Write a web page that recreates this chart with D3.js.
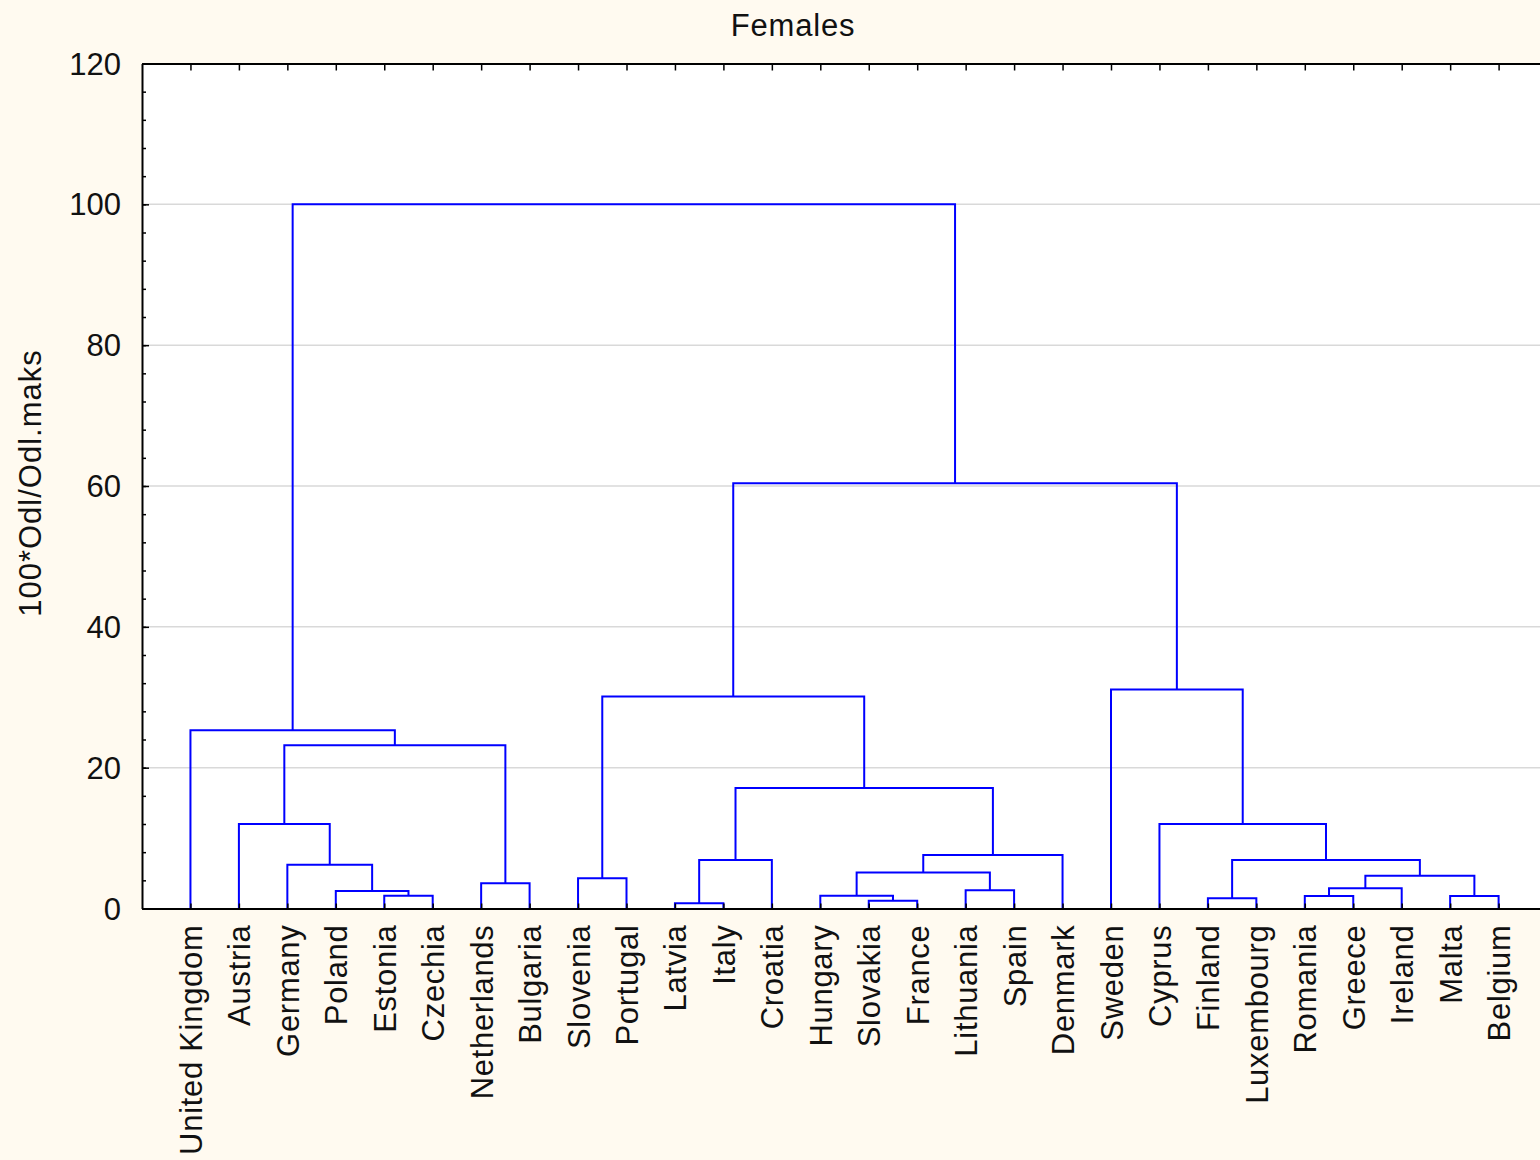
<!doctype html>
<html>
  <head>
    <script src="https://d3js.org/d3.v7.min.js"></script>
    <style>
      body { margin: 0; background: #fffaf0; }
      text { font-family: "Liberation Sans", Arial, sans-serif; fill: #111; }
    </style>
  </head>
  <body>
    <div id="chart"></div>
    <script>
      // leaf order, left to right
      var countries = ["United Kingdom", "Austria", "Germany", "Poland", "Estonia", "Czechia",
        "Netherlands", "Bulgaria", "Slovenia", "Portugal", "Latvia", "Italy", "Croatia",
        "Hungary", "Slovakia", "France", "Lithuania", "Spain", "Denmark", "Sweden", "Cyprus",
        "Finland", "Luxembourg", "Romania", "Greece", "Ireland", "Malta", "Belgium"];

      // joins: [node a, node b, linkage distance]
      // ids 0-27 are the countries, id 28 + k is the k-th join in this list
      var merges = [
        [10, 11, 0.74],  // 28 Latvia, Italy
        [14, 15, 1.1],   // 29 Slovakia, France
        [21, 22, 1.45],  // 30 Finland, Luxembourg
        [4, 5, 1.8],     // 31 Estonia, Czechia
        [13, 29, 1.8],   // 32 Hungary
        [23, 24, 1.77],  // 33 Romania, Greece
        [26, 27, 1.77],  // 34 Malta, Belgium
        [3, 31, 2.5],    // 35 Poland
        [16, 17, 2.6],   // 36 Lithuania, Spain
        [33, 25, 2.87],  // 37 Ireland
        [6, 7, 3.6],     // 38 Netherlands, Bulgaria
        [8, 9, 4.3],     // 39 Slovenia, Portugal
        [37, 34, 4.66],  // 40
        [32, 36, 5.1],   // 41
        [2, 35, 6.2],    // 42 Germany
        [28, 12, 6.9],   // 43 Croatia
        [30, 40, 6.9],   // 44
        [41, 18, 7.6],   // 45 Denmark
        [1, 42, 12.0],   // 46 Austria
        [20, 44, 12.0],  // 47 Cyprus
        [43, 45, 17.1],  // 48
        [46, 38, 23.2],  // 49
        [0, 49, 25.3],   // 50 United Kingdom
        [39, 48, 30.1],  // 51
        [19, 47, 31.1],  // 52 Sweden
        [51, 52, 60.4],  // 53
        [50, 53, 100]    // 54 root
      ];

      var yTicks = [0, 20, 40, 60, 80, 100, 120];
      var yMinor = d3.range(0, 121, 4);

      var width = 1540;
      var height = 1160;
      var plotLeft = 142, plotTop = 63.5, plotBottom = 908.5;

      var svg = d3.select("#chart")
        .append("svg")
        .attr("width", width)
        .attr("height", height);

      // leaves sit at 1..28, axis runs 0..29 (right end is cut off by the window)
      var x = d3.scaleLinear().domain([0, countries.length + 1]).range([plotLeft, plotLeft + 48.45 * 29]);
      var y = d3.scaleLinear().domain([0, 120]).range([plotBottom, plotTop]);

      // white plot area
      svg.append("rect")
        .attr("x", x(0)).attr("y", y(120))
        .attr("width", x(29) - x(0)).attr("height", y(0) - y(120))
        .attr("fill", "white");

      // grid lines
      svg.selectAll(".grid")
        .data(yTicks.filter(function(d) { return d > 0 && d < 120; }))
        .enter().append("line")
        .attr("x1", x(0)).attr("x2", x(29))
        .attr("y1", y).attr("y2", y)
        .attr("stroke", "#d9d9d9")
        .attr("stroke-width", 1.5);

      // node positions: leaves first, then every join at the mean of its two children
      var nodeX = countries.map(function(d, i) { return x(i + 1); });
      var nodeH = countries.map(function() { return 0; });
      merges.forEach(function(m) {
        nodeX.push((nodeX[m[0]] + nodeX[m[1]]) / 2);
        nodeH.push(m[2]);
      });

      svg.selectAll(".link")
        .data(merges)
        .enter().append("path")
        .attr("d", function(m) {
          var a = m[0], b = m[1];
          return "M" + nodeX[a] + "," + y(nodeH[a]) +
                 "V" + y(m[2]) +
                 "H" + nodeX[b] +
                 "V" + y(nodeH[b]);
        })
        .attr("fill", "none")
        .attr("stroke", "#0000ff")
        .attr("stroke-width", 2);

      // left axis with labels, major ticks pointing inwards
      var yAxis = svg.append("g")
        .attr("transform", "translate(" + plotLeft + ",0)")
        .call(d3.axisLeft(y).tickValues(yTicks).tickSize(-7).tickSizeOuter(0).tickPadding(21));
      yAxis.selectAll("text").style("font-size", "31px").attr("dy", "0.34em");

      // minor ticks
      svg.append("g")
        .attr("transform", "translate(" + plotLeft + ",0)")
        .call(d3.axisLeft(y).tickValues(yMinor).tickSize(-4).tickFormat(""))
        .select(".domain").remove();

      // top axis: ticks only
      svg.append("g")
        .attr("transform", "translate(0," + plotTop + ")")
        .call(d3.axisTop(x).tickValues(d3.range(1, 29)).tickSize(-7).tickSizeOuter(0).tickFormat(""));

      // bottom axis with rotated country names
      var xAxis = svg.append("g")
        .attr("transform", "translate(0," + plotBottom + ")")
        .call(d3.axisBottom(x).tickValues(d3.range(1, 29)).tickSize(-5).tickSizeOuter(0)
          .tickFormat(function(d) { return countries[d - 1]; }));
      xAxis.selectAll("text")
        .style("font-size", "31px")
        .style("letter-spacing", "0.7px")
        .attr("text-anchor", "end")
        .attr("transform", "rotate(-90)")
        .attr("x", -16)
        .attr("y", 0)
        .attr("dy", "11px");

      svg.selectAll(".domain").attr("stroke", "black").attr("stroke-width", 2);
      svg.selectAll(".tick line").attr("stroke", "black").attr("stroke-width", 1.5);

      // title
      svg.append("text")
        .attr("x", 793).attr("y", 36)
        .attr("text-anchor", "middle")
        .style("font-size", "31px")
        .style("letter-spacing", "0.8px")
        .text("Females");

      // y axis title
      svg.append("text")
        .attr("transform", "translate(41,483) rotate(-90)")
        .attr("text-anchor", "middle")
        .style("font-size", "31px")
        .style("letter-spacing", "1px")
        .text("100*Odl/Odl.maks");
    </script>
  </body>
</html>
